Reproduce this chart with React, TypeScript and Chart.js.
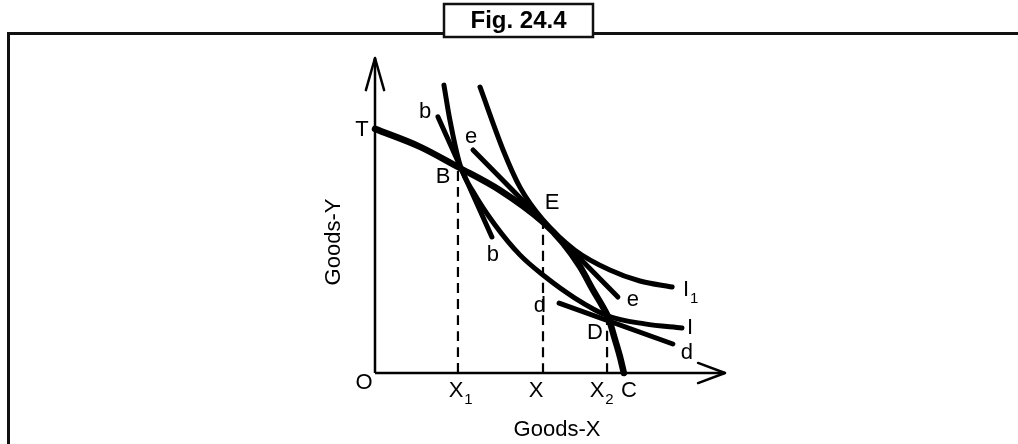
import React, { useEffect, useRef } from 'react';
import Chart from 'chart.js/auto';

// Production possibility curve T–C
const ppcX = [0, 1.29, 2.37, 3.57, 4.8, 5.37, 5.86, 6.23, 6.51, 6.66, 6.86, 7.0, 7.11];
const ppcY = [7.75, 7.18, 6.54, 5.8, 4.79, 4.13, 3.37, 2.63, 2.1, 1.78, 1.05, 0.51, 0];
// Indifference curve I
const iX = [1.97, 2.14, 2.43, 2.86, 3.43, 4.14, 4.8, 5.71, 6.66, 7.71, 8.77];
const iY = [9.14, 8.03, 6.6, 5.65, 4.7, 3.75, 3.11, 2.38, 1.81, 1.56, 1.43];
// Indifference curve I1
const i1X = [3.0, 3.66, 4.14, 4.8, 5.71, 6.71, 7.57, 8.49];
const i1Y = [9.08, 7.08, 5.9, 4.86, 3.9, 3.27, 2.92, 2.73];
// Tangent lines bb, ee, dd
const bbX = [1.8, 3.34];
const bbY = [8.13, 4.32];
const eeX = [2.8, 6.94];
const eeY = [7.08, 2.41];
const ddX = [5.26, 8.51];
const ddY = [2.22, 0.92];
// Dashed drop lines at X1, X, X2
const dropX = [2.37, 4.8, 6.63];
const dropTop = [6.54, 4.79, 1.78];
// Axes
const axisMax = [10, 10];

// Point labels: [text, subscript, x, y]
const labelText = ['T', 'b', 'e', 'B', 'E', 'b', 'd', 'e', 'I', 'I', 'D', 'd', 'O', 'X', 'X', 'X', 'C'];
const labelSub = ['', '', '', '', '', '', '', '', '1', '', '', '', '', '1', '', '2', ''];
const labelX = [-0.371, 1.429, 2.743, 1.943, 5.057, 3.371, 4.714, 7.371, 8.886, 9.0, 6.286, 8.914, -0.314, 2.314, 4.6, 6.343, 7.257];
const labelY = [7.714, 8.286, 7.492, 6.222, 5.397, 3.746, 2.127, 2.317, 2.635, 1.429, 1.27, 0.635, -0.317, -0.571, -0.571, -0.571, -0.571];

const xTitle = 'Goods-X';
const yTitle = 'Goods-Y';
const figTitle = 'Fig. 24.4';

const FONT = '"Liberation Sans", Arial, Helvetica, sans-serif';

function pts(xs: number[], ys: number[]) {
  return xs.map((x, i) => ({ x, y: ys[i] }));
}

const decorPlugin = {
  id: 'decor',
  afterDraw(chart: any) {
    const ctx = chart.ctx as CanvasRenderingContext2D;
    const sx = chart.scales.x;
    const sy = chart.scales.y;
    ctx.save();
    // frame
    ctx.strokeStyle = '#111';
    ctx.lineWidth = 3;
    ctx.beginPath();
    ctx.moveTo(8.5, 444);
    ctx.lineTo(8.5, 33.5);
    ctx.lineTo(444, 33.5);
    ctx.moveTo(593, 33.5);
    ctx.lineTo(1018, 33.5);
    ctx.stroke();
    // title box
    ctx.lineWidth = 2.5;
    ctx.strokeRect(444, 4, 149, 33);
    ctx.fillStyle = '#000';
    ctx.font = `bold 24px ${FONT}`;
    ctx.textAlign = 'center';
    ctx.textBaseline = 'middle';
    ctx.fillText(figTitle, 518.5, 21.5);

    // point labels
    for (let i = 0; i < labelText.length; i++) {
      const px = sx.getPixelForValue(labelX[i]);
      const py = sy.getPixelForValue(labelY[i]);
      ctx.font = `22px ${FONT}`;
      ctx.textAlign = 'center';
      ctx.textBaseline = 'middle';
      ctx.fillText(labelText[i], px, py);
      if (labelSub[i]) {
        const w = ctx.measureText(labelText[i]).width;
        ctx.font = `15px ${FONT}`;
        ctx.textAlign = 'left';
        ctx.fillText(labelSub[i], px + w / 2 + 1, py + 9);
      }
    }
    // axis titles
    ctx.font = `22px ${FONT}`;
    ctx.textAlign = 'center';
    ctx.textBaseline = 'middle';
    ctx.fillText(xTitle, 557, 430);
    ctx.translate(334, 242);
    ctx.rotate(-Math.PI / 2);
    ctx.fillText(yTitle, 0, 0);
    ctx.restore();
  },
};

export default function App() {
  const ref = useRef<HTMLCanvasElement | null>(null);
  useEffect(() => {
    if (!ref.current) return;
    const line = (data: any[], width: number, extra: any = {}) => ({
      data,
      showLine: true,
      borderColor: '#000',
      backgroundColor: '#000',
      borderWidth: width,
      pointRadius: 0,
      borderCapStyle: 'round',
      borderJoinStyle: 'round',
      cubicInterpolationMode: 'monotone',
      clip: false,
      ...extra,
    });
    const datasets: any[] = [
      line([{ x: 0, y: 0 }, { x: 0, y: axisMax[1] }], 2.5, { borderCapStyle: 'butt' }),
      line([{ x: 0, y: 0 }, { x: axisMax[0], y: 0 }], 2.5, { borderCapStyle: 'butt' }),
      line([{ x: -0.26, y: axisMax[1] - 1.02 }, { x: 0, y: axisMax[1] }, { x: 0.26, y: axisMax[1] - 1.02 }], 2.5, { cubicInterpolationMode: 'default', tension: 0 }),
      line([{ x: axisMax[0] - 0.77, y: 0.32 }, { x: axisMax[0], y: 0 }, { x: axisMax[0] - 0.77, y: -0.32 }], 2.5, { cubicInterpolationMode: 'default', tension: 0 }),
      ...dropX.map((x, i) =>
        line([{ x, y: 0 }, { x, y: dropTop[i] }], 2.2, { borderDash: [10, 6], borderCapStyle: 'butt' })
      ),
      line(pts(bbX, bbY), 5),
      line(pts(eeX, eeY), 5),
      line(pts(ddX, ddY), 5),
      line(pts(iX, iY), 5),
      line(pts(i1X, i1Y), 5),
      line(pts(ppcX, ppcY), 6.5),
    ];
    const chart = new Chart(ref.current, {
      type: 'scatter',
      data: { datasets },
      options: {
        responsive: false,
        animation: false,
        events: [],
        layout: { padding: { left: 375, right: 293, top: 58, bottom: 71 } },
        scales: {
          x: { type: 'linear', min: 0, max: axisMax[0], display: false },
          y: { type: 'linear', min: 0, max: axisMax[1], display: false },
        },
        plugins: { legend: { display: false }, tooltip: { enabled: false }, title: { display: false } },
      },
      plugins: [decorPlugin],
    } as any);
    return () => chart.destroy();
  }, []);
  return (
    <div style={{ position: 'absolute', left: 0, top: 0, width: 1018, height: 444, background: '#fff' }}>
      <canvas ref={ref} width={1018} height={444} style={{ display: 'block' }} />
    </div>
  );
}
